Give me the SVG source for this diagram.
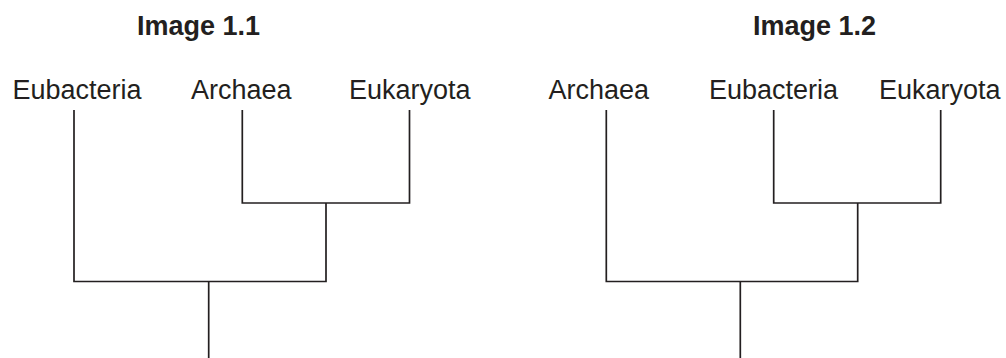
<svg xmlns="http://www.w3.org/2000/svg" width="1006" height="358" viewBox="0 0 1006 358">
<style>
.lbl{font-family:"Liberation Sans",Arial,sans-serif;font-size:27px;fill:#231f20}
.ttl{font-family:"Liberation Sans",Arial,sans-serif;font-size:27px;font-weight:bold;fill:#231f20}
.br{fill:none;stroke:#231f20;stroke-width:1.7;stroke-linecap:butt;stroke-linejoin:miter}
</style>
<rect width="1006" height="358" fill="#ffffff"/>
<g id="title1"><text class="ttl" x="137" y="35">Image 1.1</text></g>
<g id="title2"><text class="ttl" x="753" y="35">Image 1.2</text></g>
<g id="t1-eubacteria"><text class="lbl" x="12.5" y="99">Eubacteria</text></g>
<g id="t1-archaea"><text class="lbl" x="191" y="99">Archaea</text></g>
<g id="t1-eukaryota"><text class="lbl" x="349" y="99">Eukaryota</text></g>
<g id="t2-archaea"><text class="lbl" x="548.5" y="99">Archaea</text></g>
<g id="t2-eubacteria"><text class="lbl" x="709" y="99">Eubacteria</text></g>
<g id="t2-eukaryota"><text class="lbl" x="879" y="99">Eukaryota</text></g>
<g id="connectors">
<path class="br" d="M242.3,110 V203 H409.5 V110"/>
<path class="br" d="M74,110 V281.5 H326 V203"/>
<path class="br" d="M208.7,281.5 V358"/>
<path class="br" d="M773.7,110 V203 H940.7 V110"/>
<path class="br" d="M606.3,110 V281.5 H857.7 V203"/>
<path class="br" d="M740.3,281.5 V358"/>
</g>
</svg>
